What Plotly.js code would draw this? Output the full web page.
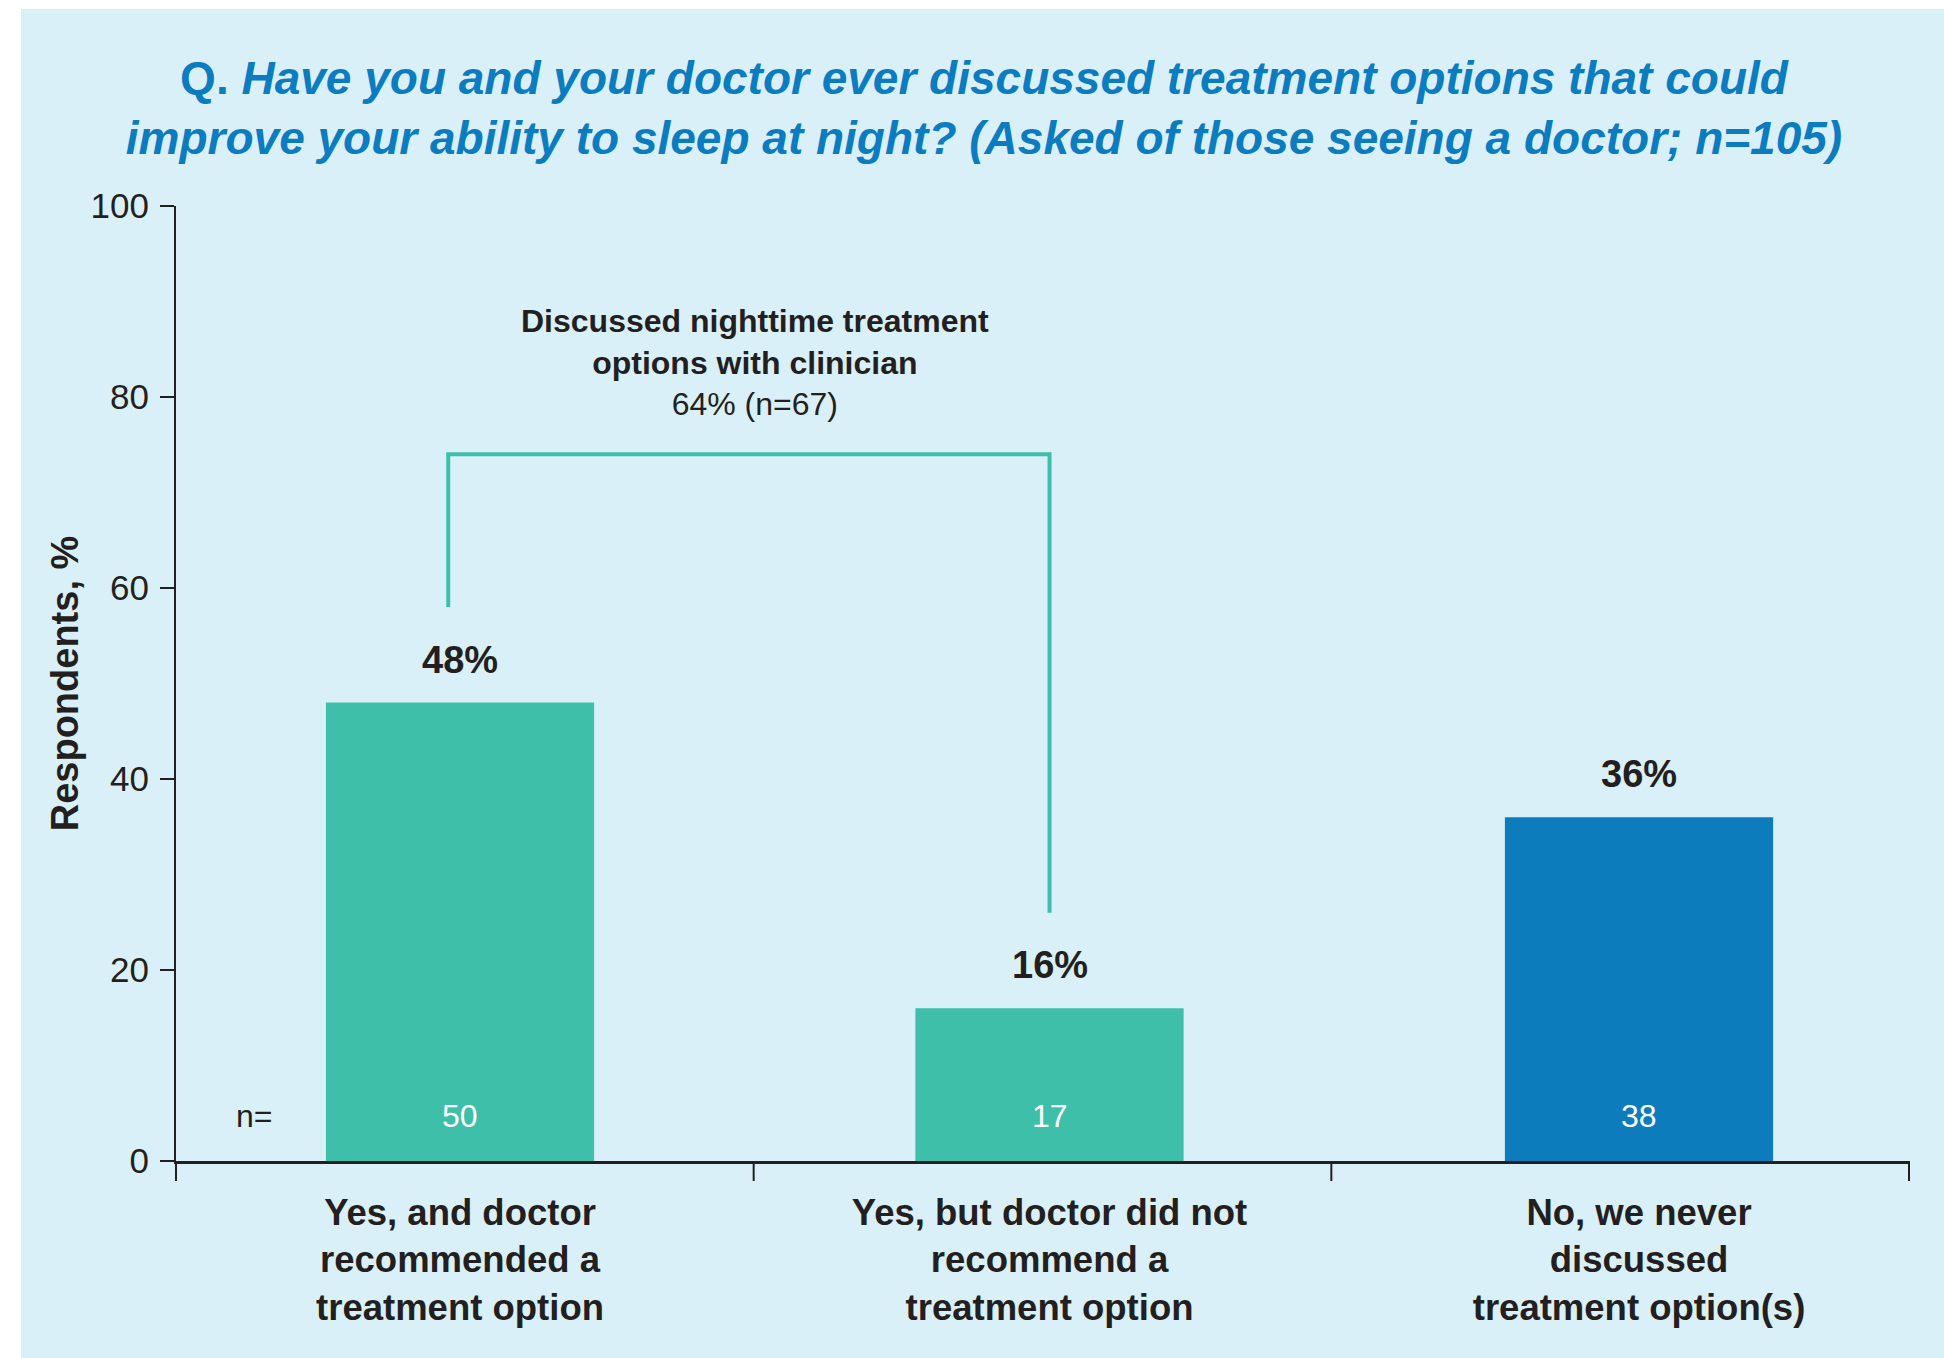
<!DOCTYPE html>
<html>
<head>
<meta charset="utf-8">
<script src="https://cdn.plot.ly/plotly-3.0.1.min.js"></script>
<style>
  html, body { margin: 0; padding: 0; background: #ffffff; }
  #chart { width: 1944px; height: 1358px; }
</style>
</head>
<body>
<div id="chart"></div>
<script>
// ---- data ----
const categories = [
  'Yes, and doctor<br>recommended a<br>treatment option',
  'Yes, but doctor did not<br>recommend a<br>treatment option',
  'No, we never<br>discussed<br>treatment option(s)'
];
const percents = [48, 16, 36];
const nCounts = [50, 17, 38];
const barColors = ['#3DBFAA', '#3DBFAA', '#0C7CBC'];
const yTicks = [0, 20, 40, 60, 80, 100];
const groupLabel = 'Discussed nighttime treatment<br>options with clinician';
const groupPercent = 64;
const groupN = 67;
const titleLead = 'Q.';
const titleLine1 = 'Have you and your doctor ever discussed treatment options that could';
const titleLine2 = 'improve your ability to sleep at night? (Asked of those seeing a doctor; n=105)';
const yTitle = 'Respondents, %';

// ---- styles ----
const FONT = 'Liberation Sans, Arial, Helvetica, sans-serif';
const INK = '#231F20';
const PANEL = '#DAF0F8';
const TEAL = '#3DBFAA';
const TITLE_BLUE = '#0B7CC0';

const W = 1944, H = 1358;
const M = {l: 176, r: 35, t: 206, b: 197};
const plotW = W - M.l - M.r, plotH = H - M.t - M.b;

const trace = {
  type: 'bar',
  x: categories,
  y: percents,
  width: 0.455,
  marker: {color: barColors, line: {width: 0}},
  hoverinfo: 'skip',
  showlegend: false
};

const annotations = [];
percents.forEach((p, i) => {
  annotations.push({
    x: i, y: p, xref: 'x', yref: 'y',
    text: '<b>' + p + '%</b>',
    showarrow: false, yanchor: 'middle', xanchor: 'center', yshift: 43,
    font: {family: FONT, size: 38, color: INK}
  });
  annotations.push({
    x: i, y: 4.7, xref: 'x', yref: 'y',
    text: String(nCounts[i]),
    showarrow: false, yanchor: 'middle', xanchor: 'center',
    font: {family: FONT, size: 32, color: '#ffffff'}
  });
});
annotations.push({
  x: -0.35, y: 4.7, xref: 'x', yref: 'y',
  text: 'n=', showarrow: false, yanchor: 'middle', xanchor: 'center',
  font: {family: FONT, size: 32, color: INK}
});
annotations.push({
  x: 0.5, y: 83.6, xref: 'x', yref: 'y',
  text: '<b>' + groupLabel + '</b><br>' + groupPercent + '% (n=' + groupN + ')',
  showarrow: false, yanchor: 'middle', xanchor: 'center', align: 'center',
  font: {family: FONT, size: 32, color: INK}
});

const bracketTop = 74;
const bracketGap = 10;
const bracketLeftInset = -0.02;
const shapes = [
  // background panel
  {type: 'rect', xref: 'paper', yref: 'paper', layer: 'below',
   x0: (21 - M.l) / plotW, x1: (W - M.l) / plotW,
   y0: -(M.b) / plotH, y1: (H - 9 - M.b) / plotH,
   fillcolor: PANEL, line: {width: 0}},
  // bracket
  {type: 'path', xref: 'x', yref: 'y', layer: 'above',
   path: 'M ' + bracketLeftInset + ',' + (percents[0] + bracketGap) + ' L ' + bracketLeftInset + ',' + bracketTop +
         ' L 1,' + bracketTop + ' L 1,' + (percents[1] + bracketGap),
   line: {color: TEAL, width: 4}}
];
// boundary ticks of x axis (between categories)
for (let i = 0; i <= categories.length; i++) {
  shapes.push({type: 'line', xref: 'paper', yref: 'paper',
    x0: i / categories.length, x1: i / categories.length, y0: -20 / plotH, y1: 0,
    line: {color: INK, width: 2}});
}

const layout = {
  width: W, height: H,
  margin: M,
  paper_bgcolor: '#ffffff',
  plot_bgcolor: 'rgba(0,0,0,0)',
  font: {family: FONT, color: INK},
  title: {
    text: titleLead + ' <i>' + titleLine1 + '</i><br><i>' + titleLine2 + '</i>',
    font: {family: FONT, size: 46, color: TITLE_BLUE, weight: 'bold'},
    x: 984 / W, xref: 'container', xanchor: 'center',
    y: 1 - 94 / H, yref: 'container', yanchor: 'middle'
  },
  xaxis: {
    type: 'category',
    range: [-0.4818, 2.458],
    showline: true, linecolor: INK, linewidth: 3,
    ticks: '', showgrid: false, zeroline: false,
    tickfont: {family: FONT, size: 36.5, color: INK, weight: 'bold'},
    ticklabelstandoff: 17
  },
  yaxis: {
    range: [0, 100],
    tickvals: yTicks,
    showline: true, linecolor: INK, linewidth: 2,
    ticks: 'outside', ticklen: 14, tickwidth: 2, tickcolor: INK,
    showgrid: false, zeroline: false,
    tickfont: {family: FONT, size: 35, color: INK},
    ticklabelstandoff: 4,
    title: {text: yTitle, standoff: 0, font: {family: FONT, size: 38, color: INK, weight: 'bold'}}
  },
  bargap: 0.5,
  shapes: shapes,
  annotations: annotations
};

Plotly.newPlot('chart', [trace], layout, {displayModeBar: false, staticPlot: true});
</script>
</body>
</html>
